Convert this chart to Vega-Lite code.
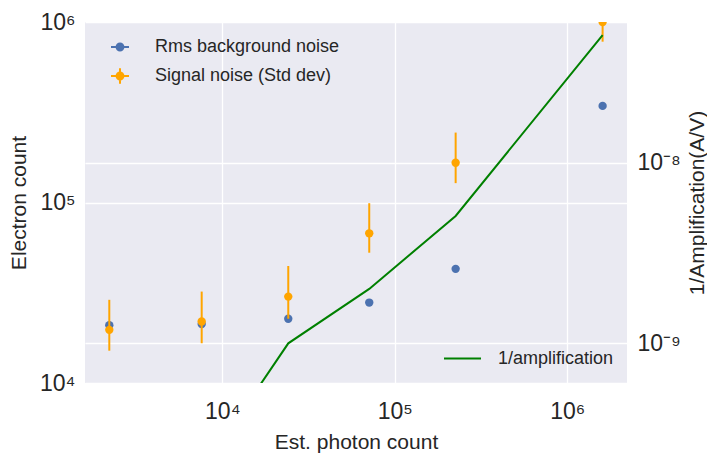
{
  "$schema": "https://vega.github.io/schema/vega-lite/v6.json",
  "width": 542,
  "height": 361,
  "autosize": "none",
  "padding": {"left": 85, "top": 22, "right": 80, "bottom": 72},
  "background": "white",
  "config": {
    "view": {"fill": "#EAEAF2", "stroke": null},
    "font": "Liberation Sans",
    "axis": {
      "domain": false,
      "ticks": false,
      "gridColor": "white",
      "gridWidth": 1.3,
      "labelFont": "Liberation Sans",
      "labelFontSize": 23,
      "labelColor": "#262626",
      "labelFlush": false,
      "labelOverlap": false,
      "titleFont": "Liberation Sans",
      "titleFontSize": 21,
      "titleFontWeight": "normal",
      "titleColor": "#262626"
    },
    "legend": {
      "labelFont": "Liberation Sans",
      "labelFontSize": 18,
      "labelColor": "#262626",
      "labelLimit": 400
    }
  },
  "data": {
    "values": [
      {"photons": 2213, "rms": 20900, "sig": 19700, "sig_lo": 15100, "sig_hi": 28900, "inv_amp": 1.0e-10},
      {"photons": 7597, "rms": 21200, "sig": 21900, "sig_lo": 16600, "sig_hi": 32100, "inv_amp": 1.96e-10},
      {"photons": 24130, "rms": 22700, "sig": 30100, "sig_lo": 22700, "sig_hi": 44500, "inv_amp": 1.0e-9},
      {"photons": 71120, "rms": 27900, "sig": 67500, "sig_lo": 52700, "sig_hi": 99100, "inv_amp": 2.0e-9},
      {"photons": 225400, "rms": 42900, "sig": 166000, "sig_lo": 128000, "sig_hi": 244000, "inv_amp": 5.07e-9},
      {"photons": 1603000, "rms": 343000, "sig": 1000000, "sig_lo": 778000, "sig_hi": 1220000, "inv_amp": 5.09e-8}
    ]
  },
  "layer": [
    {
      "layer": [
        {
          "mark": {"type": "point", "filled": true, "opacity": 1, "size": 70, "clip": true},
          "encoding": {
            "x": {
              "field": "photons", "type": "quantitative",
              "scale": {"type": "log", "domain": [1600, 2220000], "nice": false, "zero": false},
              "axis": {
                "values": [10000, 100000, 1000000],
                "labelExpr": "datum.value < 50000 ? '10⁴' : datum.value < 500000 ? '10⁵' : '10⁶'",
                "title": "Est. photon count",
                "labelPadding": 17,
                "titlePadding": 8,
                "grid": true
              }
            },
            "y": {
              "field": "rms", "type": "quantitative",
              "scale": {"type": "log", "domain": [10000, 1000000], "nice": false, "zero": false},
              "axis": {
                "values": [10000, 100000, 1000000],
                "labelExpr": "datum.value < 50000 ? '10⁴' : datum.value < 500000 ? '10⁵' : '10⁶'",
                "title": "Electron count",
                "labelPadding": 10,
                "labelDy": 5,
                "titlePadding": 10,
                "grid": true
              }
            },
            "color": {
              "datum": "Rms background noise",
              "scale": {"domain": ["Rms background noise", "Signal noise (Std dev)"], "range": ["#4C72B0", "#FFA500"]},
              "legend": {
                "orient": "none",
                "legendX": 25,
                "legendY": 15,
                "title": null,
                "padding": 0,
                "symbolSize": 324,
                "labelOffset": 25,
                "rowPadding": 8,
                "symbolType": {"expr": "datum.value === 'Rms background noise' ? 'M-1,0H1M-0.38,0A0.38,0.38 0 1,0 0.38,0A0.38,0.38 0 1,0 -0.38,0Z' : 'M-1,0H1M0,-0.85V0.85M-0.38,0A0.38,0.38 0 1,0 0.38,0A0.38,0.38 0 1,0 -0.38,0Z'"},
                "symbolStrokeColor": {"expr": "datum.value === 'Rms background noise' ? '#4C72B0' : '#FFA500'"},
                "symbolFillColor": {"expr": "datum.value === 'Rms background noise' ? '#4C72B0' : '#FFA500'"},
                "symbolStrokeWidth": 2,
                "symbolOpacity": 1
              }
            }
          }
        },
        {
          "mark": {"type": "rule", "color": "#FFA500", "strokeWidth": 2, "clip": true},
          "encoding": {
            "x": {"field": "photons", "type": "quantitative"},
            "y": {"field": "sig_lo", "type": "quantitative"},
            "y2": {"field": "sig_hi"}
          }
        },
        {
          "mark": {"type": "point", "filled": true, "opacity": 1, "size": 70, "clip": true},
          "encoding": {
            "x": {"field": "photons", "type": "quantitative"},
            "y": {"field": "sig", "type": "quantitative"},
            "color": {"datum": "Signal noise (Std dev)"}
          }
        }
      ]
    },
    {
      "mark": {"type": "line", "strokeWidth": 2, "clip": true},
      "encoding": {
        "x": {"field": "photons", "type": "quantitative"},
        "y": {
          "field": "inv_amp", "type": "quantitative",
          "scale": {"type": "log", "domain": [6.03e-10, 6.01e-8], "nice": false, "zero": false},
          "axis": {
            "orient": "right",
            "values": [1e-9, 1e-8],
            "labelExpr": "datum.value < 5e-9 ? '10⁻⁹' : '10⁻⁸'",
            "title": "1/Amplification(A/V)",
            "titleAngle": 270,
            "labelPadding": 10,
            "labelDy": 2,
            "titlePadding": 27,
            "grid": true
          }
        },
        "stroke": {
          "datum": "1/amplification",
          "scale": {"range": ["#008000"]},
          "legend": {
            "orient": "none",
            "legendX": 358,
            "legendY": 317,
            "title": null,
            "padding": 0,
            "symbolType": "stroke",
            "symbolSize": 1369,
            "symbolStrokeWidth": 2,
            "labelOffset": 16
          }
        }
      }
    }
  ],
  "resolve": {"scale": {"y": "independent"}}
}
